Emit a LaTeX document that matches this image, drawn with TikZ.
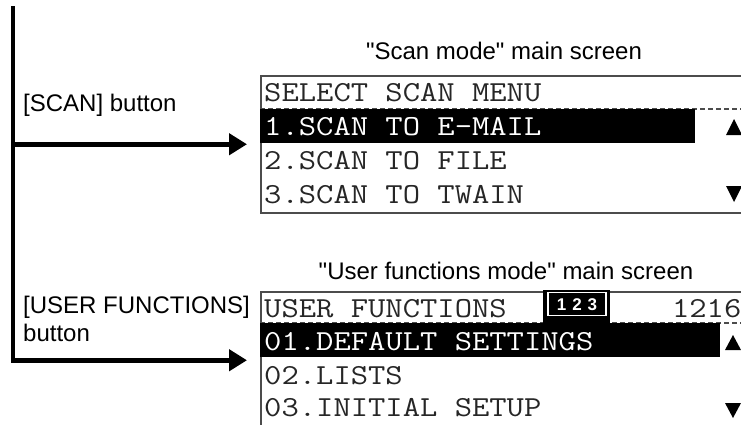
\documentclass[tikz,border=0pt]{standalone}
\usepackage{fontspec}
\setmainfont{Liberation Sans}
\usepackage{graphicx}
\usetikzlibrary{arrows.meta}
\newcommand{\lcd}[1]{\scalebox{1.16}[1]{\fontsize{29}{29}\selectfont\ttfamily #1}}
\tikzset{
  lcdframe/.style={draw=black!70, line width=1.5pt, minimum width=510pt, minimum height=137pt, anchor=north west, inner sep=0pt},
  lcdtext/.style={anchor=base west, inner sep=0pt, text=black!85},
  lcdrule/.style={black!70, line width=1.2pt, dash pattern=on 5pt off 3pt},
  btntext/.style={anchor=base west, inner sep=0pt, font=\fontsize{24}{28}\selectfont},
  feed/.style={line width=4.5pt, line join=miter, -{Triangle[length=18pt,width=21pt]}}
}
\begin{document}
\begin{tikzpicture}[x=1pt,y=-1pt]
\useasboundingbox (0,0) rectangle (741,424);
% scan screen
\node [lcdframe] (scan) at (260,75) {};
\draw [lcdrule] (scan.west |- 0,109) -- (770,109);
\fill (260,109) rectangle (695,143);
\node [btntext, anchor=base] (scantitle) at (504,59) {\textquotedbl Scan mode\textquotedbl{} main screen};
\node [lcdtext] (scanhead) at (264,101) {\lcd{SELECT SCAN MENU}};
\node [lcdtext, text=white] (scanone) at (264,135) {\lcd{1.SCAN TO E-MAIL}};
\node [lcdtext] (scantwo) at (264,169) {\lcd{2.SCAN TO FILE}};
\node [lcdtext] (scanthree) at (264,203) {\lcd{3.SCAN TO TWAIN}};
\fill (726,135) -- (734,119) -- (742,135) -- cycle;
\fill (726,186) -- (734,202) -- (742,186) -- cycle;
% user functions screen
\node [lcdframe] (user) at (260,291) {};
\draw [lcdrule] (user.west |- 0,323) -- (770,323);
\fill (260,323) rectangle (720,357);
\node [btntext, anchor=base] (usertitle) at (506,279) {\textquotedbl User functions mode\textquotedbl{} main screen};
\node [lcdtext] (userhead) at (264,317) {\lcd{USER FUNCTIONS}};
\fill (543,290) rectangle (610,325);
\draw [white, line width=1.5pt] (548,292.5) rectangle (606,315.5);
\node [text=white, inner sep=0pt, anchor=base, font=\bfseries\fontsize{17}{17}\selectfont] (mode) at (577,310.5) {1\hspace{6pt}2\hspace{6pt}3};
\node [lcdtext, anchor=base east] (count) at (741.5,317) {\lcd{1216}};
\node [lcdtext, text=white] (userone) at (264,350) {\lcd{01.DEFAULT SETTINGS}};
\node [lcdtext] (usertwo) at (264,384) {\lcd{02.LISTS}};
\node [lcdtext] (userthree) at (264,416) {\lcd{03.INITIAL SETUP}};
\fill (725,350) -- (733,335) -- (741,350) -- cycle;
\fill (725,403) -- (733,418) -- (741,403) -- cycle;
% buttons
\coordinate (trunk) at (13,6);
\node [btntext] (scanbtn) at (23,111) {[SCAN] button};
\node [btntext] (userbtn) at (23,313) {[USER FUNCTIONS]};
\node [btntext] (userbtntwo) at (23,341) {button};
\draw [feed] (trunk |- scan.west) -- ([xshift=-13pt]scan.west);
\draw [feed] (trunk) -- (trunk |- user.west) -- ([xshift=-13pt]user.west);
\end{tikzpicture}
\end{document}
